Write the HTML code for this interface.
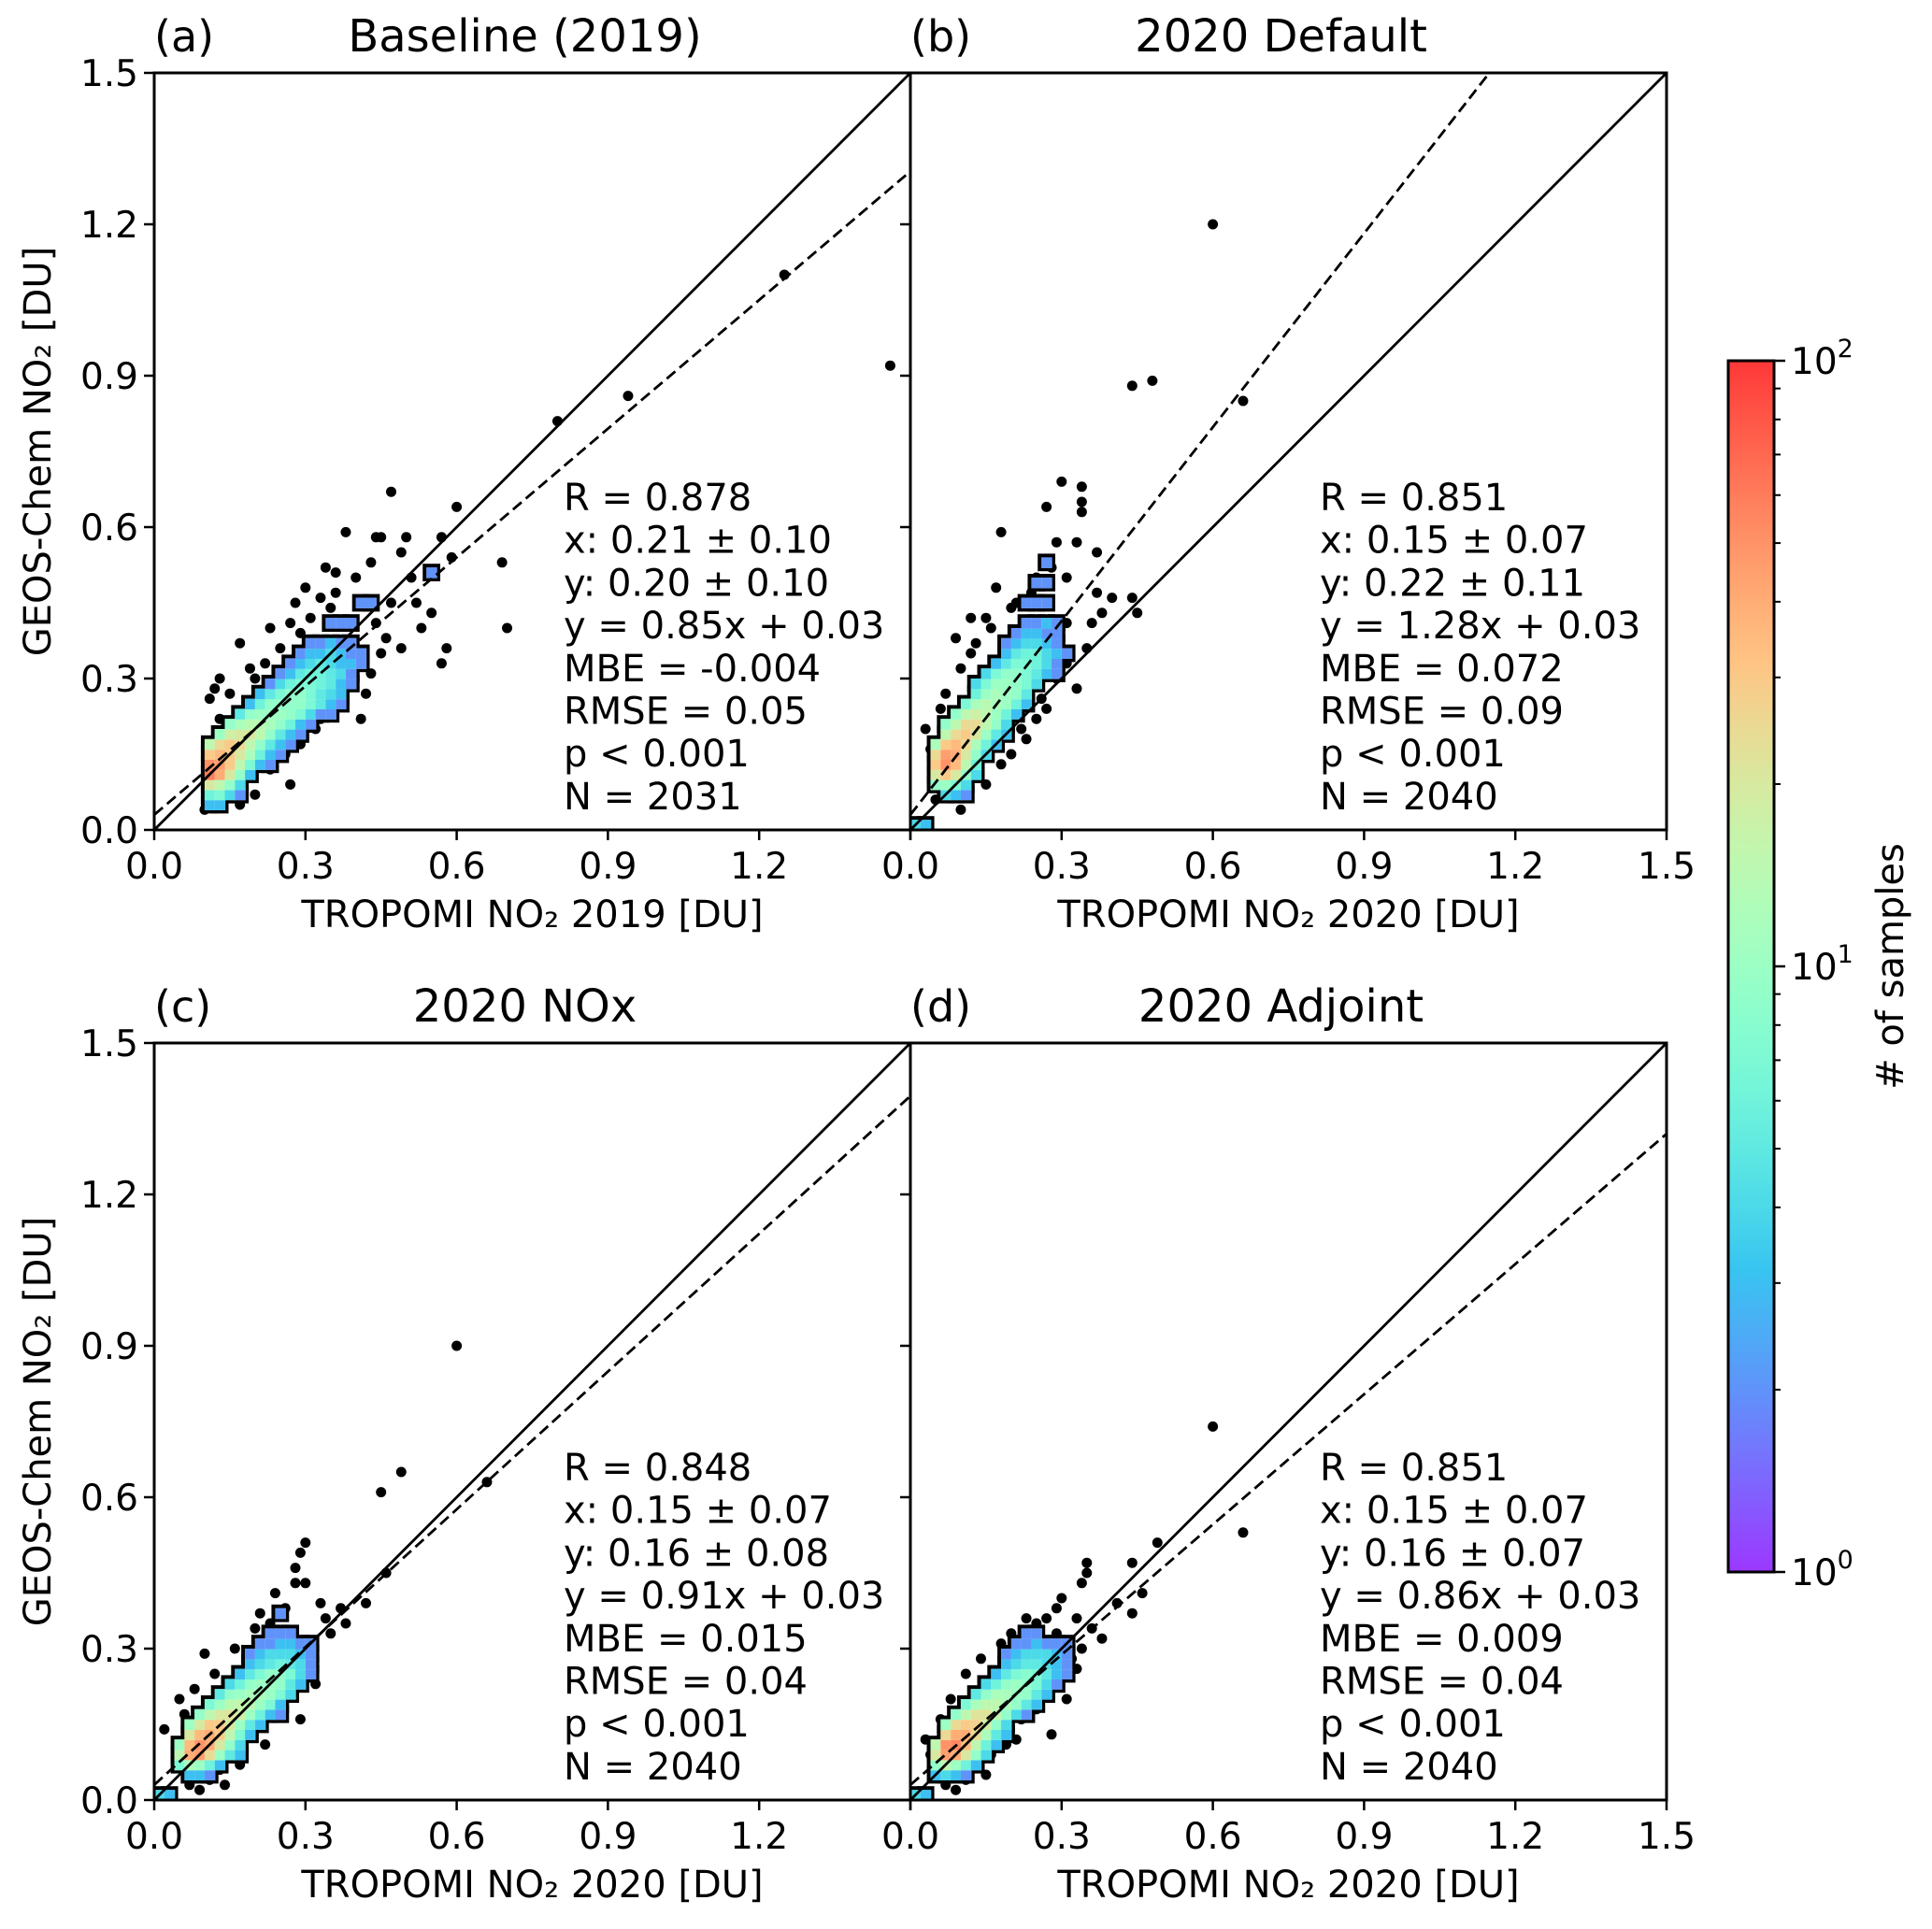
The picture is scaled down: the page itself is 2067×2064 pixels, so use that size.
<!DOCTYPE html>
<html><head><meta charset="utf-8"><style>
html,body{margin:0;padding:0;background:#fff;}
svg{display:block;font-family:"DejaVu Sans","Liberation Sans",sans-serif;}
</style></head><body>
<svg id="fig" xmlns="http://www.w3.org/2000/svg" width="2067" height="2064" viewBox="0 0 2067 2064">
<defs>
<linearGradient id="cbgrad" x1="0" y1="1" x2="0" y2="0"></linearGradient>
</defs>
<g id="root"></g>
</svg>
<script>
// ---- data ----
const panelIds = ['a','b','c','d'];
const panelTitles = ['Baseline (2019)','2020 Default','2020 NOx','2020 Adjoint'];
const panelXLabels = ['TROPOMI NO₂ 2019 [DU]','TROPOMI NO₂ 2020 [DU]','TROPOMI NO₂ 2020 [DU]','TROPOMI NO₂ 2020 [DU]'];
const fitSlopes = [0.85, 1.28, 0.91, 0.86];
const fitIntercepts = [0.03, 0.03, 0.03, 0.03];
const statsA = ['R = 0.878','x: 0.21 ± 0.10','y: 0.20 ± 0.10','y = 0.85x + 0.03','MBE = -0.004','RMSE = 0.05','p < 0.001','N = 2031'];
const statsB = ['R = 0.851','x: 0.15 ± 0.07','y: 0.22 ± 0.11','y = 1.28x + 0.03','MBE = 0.072','RMSE = 0.09','p < 0.001','N = 2040'];
const statsC = ['R = 0.848','x: 0.15 ± 0.07','y: 0.16 ± 0.08','y = 0.91x + 0.03','MBE = 0.015','RMSE = 0.04','p < 0.001','N = 2040'];
const statsD = ['R = 0.851','x: 0.15 ± 0.07','y: 0.16 ± 0.07','y = 0.86x + 0.03','MBE = 0.009','RMSE = 0.04','p < 0.001','N = 2040'];
const tickValues = [0.0,0.3,0.6,0.9,1.2,1.5];
const tickLabels = ['0.0','0.3','0.6','0.9','1.2','1.5'];
const binSize = 0.02;
// heatmap rows: [y, xStart, counts...]
const histA = [[0.04,0.10,3,3],[0.06,0.10,6,7,4,2],[0.08,0.10,20,15,9,4],[0.10,0.10,60,40,20,9,3],[0.12,0.10,50,45,30,15,7,3,2],[0.14,0.10,30,35,30,20,12,6,3,2],[0.16,0.10,15,25,30,25,15,9,5,3,2],[0.18,0.12,10,18,20,20,15,9,5,3,2],[0.20,0.14,9,12,14,14,12,9,6,3,2],[0.22,0.16,5,9,10,10,10,9,7,4,2,2],[0.24,0.18,3,6,9,9,9,9,7,5,3,2],[0.26,0.20,3,5,7,9,9,7,5,4,3],[0.28,0.22,2,4,6,7,7,6,5,3,2],[0.30,0.24,2,3,5,6,6,5,4,2],[0.32,0.26,2,3,4,5,4,3,3,2],[0.34,0.28,2,3,3,4,3,2,2],[0.36,0.30,2,2,3,2,2],[0.40,0.34,2,2,2],[0.44,0.40,2,2],[0.50,0.54,2]];
const histB = [[0.00,0.00,4,3],[0.06,0.06,4,3,2],[0.08,0.04,9,10,7,4],[0.10,0.04,20,30,20,9,4],[0.12,0.04,30,50,35,15,6],[0.14,0.04,25,45,40,20,9,4],[0.16,0.04,12,30,35,25,12,6,3],[0.18,0.06,15,25,30,20,10,5,3],[0.20,0.06,9,15,25,25,15,9,4],[0.22,0.08,9,15,18,15,10,6,3],[0.24,0.10,7,12,14,12,10,6,3],[0.26,0.12,6,10,12,10,9,5],[0.28,0.12,4,7,10,10,9,7,4],[0.30,0.14,4,7,9,9,7,5,3,2],[0.32,0.16,3,5,7,7,6,4,2],[0.34,0.18,3,5,6,6,4,3,2],[0.36,0.18,2,3,4,4,3,2],[0.38,0.20,2,3,3,2,2],[0.40,0.22,2,2,3,2],[0.44,0.22,2,2,2],[0.48,0.24,2,2],[0.52,0.26,2]];
const histC = [[0.00,0.00,4,3],[0.04,0.06,3,3,2],[0.06,0.04,7,12,10,6,3],[0.08,0.04,15,40,45,25,10,5,3],[0.10,0.04,10,35,50,40,20,9,4],[0.12,0.06,20,35,40,30,15,7,3],[0.14,0.06,10,20,30,30,20,10,5,3],[0.16,0.08,9,15,20,22,18,10,6,3,2],[0.18,0.10,7,10,14,16,14,10,7,3],[0.20,0.12,5,9,10,12,12,10,7,4],[0.22,0.14,4,6,9,10,10,9,5,3],[0.24,0.16,3,5,7,9,9,7,4,2],[0.26,0.18,3,4,5,6,5,4,2],[0.28,0.18,2,3,4,4,4,3,2],[0.30,0.20,2,2,3,3,2,2],[0.32,0.22,2,2,2],[0.36,0.24,2]];
const histD = [[0.00,0.00,4,3],[0.04,0.04,3,4,3,2],[0.06,0.04,9,15,10,6,3],[0.08,0.04,20,45,40,20,9,4],[0.10,0.04,15,50,55,35,15,6,3],[0.12,0.06,25,40,40,25,12,5,3],[0.14,0.06,10,25,30,28,18,9,4],[0.16,0.08,9,15,22,22,15,9,4,2],[0.18,0.10,7,12,15,15,12,9,5,3],[0.20,0.12,5,9,12,12,10,9,5,3],[0.22,0.14,4,6,9,10,9,7,4,2],[0.24,0.16,3,5,7,8,7,5,3,2],[0.26,0.18,3,4,5,5,4,3,2],[0.28,0.18,2,3,4,4,4,3,2],[0.30,0.20,2,2,3,2,2,2],[0.32,0.22,2,2]];
// scatter points [x, y]
const ptsA = [[0.8,0.81],[0.94,0.86],[1.25,1.1],[1.46,0.92],[0.69,0.53],[0.7,0.4],[0.58,0.36],[0.57,0.33],[0.47,0.67],[0.6,0.64],[0.57,0.58],[0.59,0.54],[0.38,0.59],[0.34,0.52],[0.36,0.51],[0.44,0.58],[0.45,0.58],[0.5,0.58],[0.49,0.55],[0.43,0.53],[0.51,0.5],[0.4,0.5],[0.23,0.4],[0.17,0.37],[0.13,0.3],[0.11,0.26],[0.27,0.09],[0.17,0.05],[0.1,0.04],[0.2,0.07],[0.42,0.27],[0.41,0.22],[0.53,0.4],[0.55,0.43],[0.52,0.45],[0.46,0.38],[0.49,0.36],[0.3,0.48],[0.28,0.45],[0.31,0.42],[0.35,0.44],[0.38,0.35],[0.33,0.22],[0.32,0.2],[0.25,0.18],[0.26,0.15],[0.23,0.12],[0.18,0.1],[0.15,0.27],[0.2,0.3],[0.22,0.33],[0.13,0.22],[0.44,0.41],[0.47,0.45],[0.37,0.3],[0.4,0.33],[0.27,0.41],[0.29,0.39],[0.33,0.46],[0.36,0.47],[0.42,0.45],[0.45,0.35],[0.43,0.31],[0.36,0.25],[0.29,0.17],[0.21,0.14],[0.15,0.08],[0.12,0.28],[0.19,0.32],[0.25,0.36]];
const ptsB = [[0.6,1.2],[0.44,0.88],[0.48,0.89],[0.66,0.85],[0.3,0.69],[0.34,0.68],[0.34,0.65],[0.34,0.63],[0.27,0.64],[0.18,0.59],[0.33,0.57],[0.29,0.57],[0.37,0.55],[0.37,0.47],[0.4,0.46],[0.44,0.46],[0.45,0.43],[0.36,0.41],[0.31,0.41],[0.3,0.36],[0.33,0.28],[0.27,0.24],[0.24,0.33],[0.35,0.36],[0.1,0.32],[0.09,0.38],[0.07,0.27],[0.12,0.42],[0.15,0.42],[0.17,0.48],[0.13,0.12],[0.1,0.04],[0.05,0.06],[0.2,0.15],[0.22,0.2],[0.25,0.22],[0.08,0.22],[0.03,0.2],[0.12,0.35],[0.21,0.45],[0.24,0.47],[0.25,0.5],[0.28,0.52],[0.31,0.5],[0.2,0.44],[0.16,0.4],[0.13,0.37],[0.29,0.3],[0.31,0.33],[0.26,0.26],[0.23,0.18],[0.18,0.13],[0.15,0.09],[0.06,0.24],[0.04,0.16],[0.38,0.43]];
const ptsC = [[0.6,0.9],[0.49,0.65],[0.45,0.61],[0.66,0.63],[0.46,0.45],[0.42,0.39],[0.34,0.36],[0.3,0.51],[0.29,0.49],[0.28,0.46],[0.24,0.41],[0.21,0.37],[0.28,0.43],[0.3,0.43],[0.33,0.39],[0.37,0.38],[0.38,0.35],[0.35,0.33],[0.3,0.3],[0.27,0.27],[0.26,0.24],[0.23,0.22],[0.21,0.18],[0.18,0.13],[0.15,0.1],[0.13,0.06],[0.14,0.03],[0.09,0.02],[0.07,0.03],[0.02,0.14],[0.05,0.2],[0.1,0.29],[0.12,0.25],[0.2,0.34],[0.16,0.3],[0.19,0.29],[0.31,0.26],[0.32,0.23],[0.25,0.2],[0.29,0.16],[0.12,0.08],[0.22,0.11],[0.26,0.38],[0.23,0.35],[0.08,0.22],[0.06,0.17],[0.11,0.04],[0.17,0.07]];
const ptsD = [[0.6,0.74],[0.66,0.53],[0.49,0.51],[0.44,0.47],[0.46,0.41],[0.44,0.37],[0.41,0.39],[0.35,0.47],[0.35,0.45],[0.34,0.43],[0.3,0.4],[0.29,0.38],[0.27,0.36],[0.33,0.36],[0.36,0.34],[0.38,0.32],[0.34,0.3],[0.32,0.28],[0.33,0.26],[0.3,0.25],[0.27,0.21],[0.25,0.18],[0.22,0.16],[0.19,0.11],[0.16,0.09],[0.13,0.07],[0.11,0.04],[0.07,0.03],[0.05,0.05],[0.03,0.12],[0.08,0.2],[0.11,0.25],[0.14,0.28],[0.18,0.31],[0.2,0.33],[0.23,0.36],[0.31,0.2],[0.28,0.13],[0.21,0.12],[0.25,0.35],[0.29,0.33],[0.06,0.16],[0.04,0.09],[0.09,0.02],[0.15,0.05]];
const cbTickExps = ['0','1','2'];

// ---- drawing ----
const NS='http://www.w3.org/2000/svg';
const root=document.getElementById('root');
function mk(tag,attrs,parent){const e=document.createElementNS(NS,tag);for(const k in attrs)e.setAttribute(k,attrs[k]);(parent||root).appendChild(e);return e;}
function rainbow(t){const r=Math.min(1,Math.abs(2*t-0.5)),g=Math.sin(Math.PI*t),b=Math.cos(Math.PI*t/2);
 return 'rgb('+Math.round(r*255)+','+Math.round(g*255)+','+Math.round(b*255)+')';}
function cnorm(c){return Math.max(0,Math.min(1,Math.log10(c)/2));}
const boxes=[[165,78],[974,78],[165,1116],[974,1116]];
const W=809,H=810;
const hists=[histA,histB,histC,histD], pts=[ptsA,ptsB,ptsC,ptsD], stats=[statsA,statsB,statsC,statsD];
for(let p=0;p<4;p++){
 const [x0,y0]=boxes[p];
 const sx=v=>x0+v/1.5*W, sy=v=>y0+H-v/1.5*H;
 const g=mk('g',{});  
 const clip=mk('clipPath',{id:'clip'+p},g); mk('rect',{x:x0,y:y0,width:W,height:H},clip);
 const plot=mk('g',{'clip-path':'url(#clip'+p+')'},g);
 pts[p].forEach(d=>{const c=mk('circle',{cx:sx(d[0]),cy:sy(d[1]),r:5.5,fill:'#000'},plot);
   });
 const hs=hists[p], cw=binSize/1.5*W, ch=binSize/1.5*H;
 hs.forEach(row=>{for(let i=2;i<row.length;i++){const xv=row[1]+(i-2)*binSize;
  mk('rect',{x:sx(xv)-4,y:sy(row[0]+binSize)-4,width:cw+8,height:ch+8,fill:'#000'},plot);}});
 hs.forEach(row=>{for(let i=2;i<row.length;i++){const xv=row[1]+(i-2)*binSize;
  mk('rect',{x:sx(xv),y:sy(row[0]+binSize),width:cw+0.6,height:ch+0.6,fill:'#fff'},plot);
  const r=mk('rect',{x:sx(xv),y:sy(row[0]+binSize),width:cw+0.6,height:ch+0.6,fill:rainbow(cnorm(row[i])),'fill-opacity':0.78},plot);
   }});
 const l1=mk('line',{x1:sx(0),y1:sy(0),x2:sx(1.5),y2:sy(1.5),stroke:'#000','stroke-width':2.8},plot);
  
 const m=fitSlopes[p], b=fitIntercepts[p];
 const xe=Math.min(1.5,(1.5-b)/m);
 const l2=mk('line',{x1:sx(0),y1:sy(b),x2:sx(xe),y2:sy(m*xe+b),stroke:'#000','stroke-width':2.8,'stroke-dasharray':'12 6'},plot);
  
 const fr=mk('rect',{x:x0,y:y0,width:W,height:H,fill:'none',stroke:'#000','stroke-width':3},g);
  
 tickValues.forEach((v,i)=>{
  mk('line',{x1:sx(v),y1:y0+H,x2:sx(v),y2:y0+H+11,stroke:'#000','stroke-width':2.5},g);
  mk('line',{x1:x0,y1:sy(v),x2:x0-11,y2:sy(v),stroke:'#000','stroke-width':2.5},g);
  const leftPanel=(p%2===0);
  if(!(leftPanel&&i===5)){const t=mk('text',{x:sx(v),y:y0+H+52,'font-size':39,'text-anchor':'middle'},g);t.textContent=tickLabels[i];
    }
  if(leftPanel){const t=mk('text',{x:x0-17,y:sy(v)+14,'font-size':39,'text-anchor':'end'},g);t.textContent=tickLabels[i];
    }
 });
 const xl=mk('text',{x:x0+W/2,y:y0+H+104,'font-size':40,'text-anchor':'middle'},g); xl.textContent=panelXLabels[p];
  
 if(p%2===0){const yl=mk('text',{x:0,y:0,'font-size':40,'text-anchor':'middle',transform:'translate(54,'+(y0+H/2)+') rotate(-90)'},g);
  yl.textContent='GEOS-Chem NO₂ [DU]';  }
 const tl=mk('text',{x:x0,y:y0-23,'font-size':46},g); tl.textContent='('+panelIds[p]+')';
  
 const tt=mk('text',{x:x0+W/2-8,y:y0-23,'font-size':48,'text-anchor':'middle'},g); tt.textContent=panelTitles[p];
  
 stats[p].forEach((s,i)=>{const t=mk('text',{x:x0+438,y:y0+468+i*45.7,'font-size':40},g); t.textContent=s;
   });
}
const grad=document.getElementById('cbgrad');
for(let i=0;i<=20;i++){mk('stop',{offset:(i/20),'stop-color':rainbow(i/20),'stop-opacity':0.78},grad);}
const cbx=1849,cby=386,cbw=49,cbh=1296;
const cb=mk('g',{});  
mk('rect',{x:cbx,y:cby,width:cbw,height:cbh,fill:'url(#cbgrad)'},cb);
mk('rect',{x:cbx,y:cby,width:cbw,height:cbh,fill:'none',stroke:'#000','stroke-width':3},cb);
cbTickExps.forEach((e,i)=>{const yy=cby+cbh-i*cbh/2;
 mk('line',{x1:cbx+cbw,y1:yy,x2:cbx+cbw+12,y2:yy,stroke:'#000','stroke-width':2.5},cb);
 const t=mk('text',{x:cbx+cbw+18,y:yy+14,'font-size':39},cb); t.textContent='10';
 const ts=mk('tspan',{dy:-18,'font-size':27},t); ts.textContent=e;
  
 if(i<2){for(let k=2;k<10;k++){const ym=yy-Math.log10(k)*cbh/2;
  mk('line',{x1:cbx+cbw,y1:ym,x2:cbx+cbw+7,y2:ym,stroke:'#000','stroke-width':2},cb);}}
});
const cl=mk('text',{x:0,y:0,'font-size':40,'text-anchor':'middle',transform:'translate(2036,'+(cby+cbh/2)+') rotate(-90)'},cb);
cl.textContent='# of samples';  
</script>
</body></html>
